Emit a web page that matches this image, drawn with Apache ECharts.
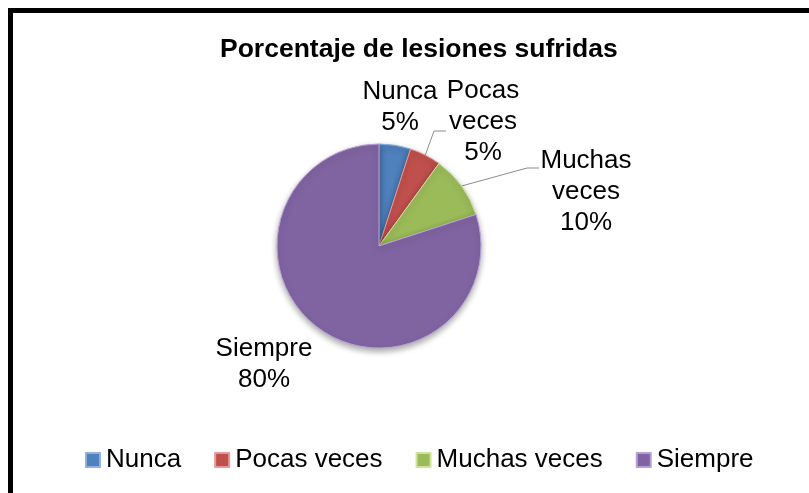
<!DOCTYPE html>
<html>
<head>
<meta charset="utf-8">
<script src="https://cdn.jsdelivr.net/npm/echarts@6/dist/echarts.min.js"></script>
<style>
  body { margin: 0; background: #fff; }
  #chart { position: absolute; left: 0; top: 0; width: 809px; height: 493px; }
  #frame { position: absolute; left: 8px; top: 8px; width: 900px; height: 600px;
           border: 5px solid #000; pointer-events: none; }
</style>
</head>
<body>
<div id="chart"></div>
<div id="frame"></div>
<script>
// datos del grafico
var categorias = ['Nunca', 'Pocas veces', 'Muchas veces', 'Siempre']
var porcentajes = [5, 5, 10, 80]
var colores = ['#4f81bd', '#c0504d', '#9bbb59', '#8064a2']
var bordes = ['#8fb0e0', '#e89a98', '#cde39e', '#b6a0d6']
// posicion de las etiquetas (centro del bloque de texto)
var etiquetas = [[400, 107], [483, 122], [586, 192], [264, 364]]
// codo y final de las lineas guia (solo Pocas veces y Muchas veces)
var guias = [null, [[434, 131], [446, 131]], [[527, 168], [539, 168]], null]

var myChart = echarts.init(document.getElementById('chart'))

var datos = categorias.map(function (c, i) {
  return {
    name: c,
    value: porcentajes[i],
    itemStyle: { color: colores[i], borderColor: bordes[i] },
    labelLine: { show: guias[i] !== null }
  }
})

myChart.setOption({
  animation: false,
  title: {
    text: 'Porcentaje de lesiones sufridas',
    left: 215,
    top: 31,
    textStyle: {
      fontFamily: 'Liberation Sans',
      fontSize: 26.5,
      fontWeight: 'bold',
      color: '#000'
    }
  },
  legend: {
    left: 80,
    top: 442,
    itemWidth: 14,
    itemHeight: 14,
    itemGap: 33,
    icon: 'rect',
    textStyle: {
      fontFamily: 'Liberation Sans',
      fontSize: 26,
      color: '#000',
      padding: [0, 0, 0, 1]
    },
    data: categorias
  },
  series: [
    {
      type: 'pie',
      center: [379, 246],
      radius: 102,
      startAngle: 90,
      clockwise: true,
      itemStyle: {
        borderWidth: 1,
        shadowBlur: 6,
        shadowOffsetY: 3,
        shadowColor: 'rgba(0,0,0,0.35)'
      },
      label: {
        show: true,
        position: 'outside',
        fontFamily: 'Liberation Sans',
        fontSize: 26,
        lineHeight: 31,
        color: '#000',
        align: 'center',
        formatter: function (p) {
          return p.name.replace(' ', '\n') + '\n' + p.value + '%'
        }
      },
      labelLine: {
        show: true,
        length: 10,
        length2: 10,
        lineStyle: { color: '#8c8c8c', width: 1 }
      },
      labelLayout: function (params) {
        var i = params.dataIndex
        var pos = etiquetas[i]
        var res = { x: pos[0], y: pos[1], align: 'center', verticalAlign: 'middle' }
        if (guias[i] && params.labelLinePoints) {
          res.labelLinePoints = [params.labelLinePoints[0], guias[i][0], guias[i][1]]
        }
        return res
      },
      emphasis: { disabled: true },
      data: datos
    }
  ]
})
</script>
</body>
</html>
